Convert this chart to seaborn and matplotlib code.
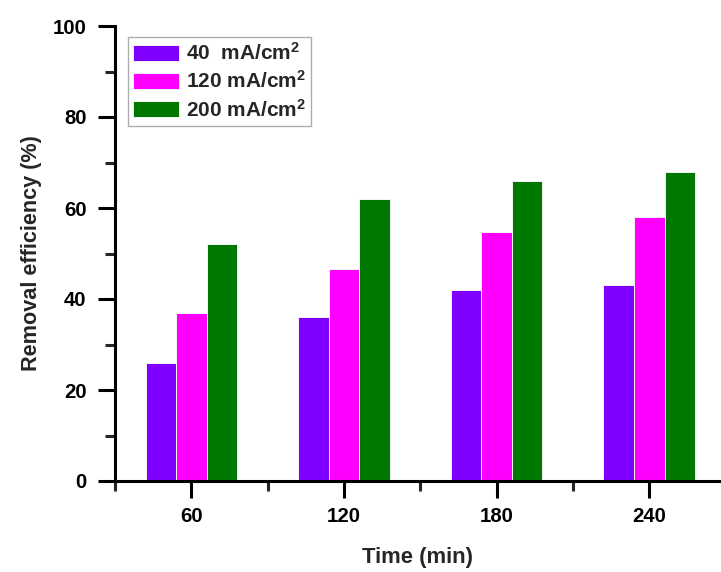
import matplotlib
matplotlib.use("Agg")
import matplotlib.pyplot as plt
import seaborn as sns
import pandas as pd
from matplotlib.ticker import MultipleLocator, FixedLocator

times = ["60", "120", "180", "240"]
series_labels = ["40  mA/cm$^{2}$", "120 mA/cm$^{2}$", "200 mA/cm$^{2}$"]
vals_40 = [26, 36, 42, 43]
vals_120 = [37, 46.5, 54.7, 58]
vals_200 = [52, 62, 66, 68]
colors = ["#8000FF", "#FF00FF", "#007800"]

sns.set_style("ticks")
plt.rcParams["font.family"] = ["Liberation Sans", "DejaVu Sans"]
plt.rcParams["font.weight"] = "bold"
plt.rcParams["mathtext.fontset"] = "custom"
plt.rcParams["mathtext.rm"] = "Liberation Sans:bold"
plt.rcParams["mathtext.bf"] = "Liberation Sans:bold"
plt.rcParams["mathtext.default"] = "bf"

rows = []
for lab, vals in zip(series_labels, [vals_40, vals_120, vals_200]):
    for t, v in zip(times, vals):
        rows.append({"Time": t, "Value": v, "Series": lab})
df = pd.DataFrame(rows)

fig = plt.figure(figsize=(7.21, 5.72), dpi=100)
ax = fig.add_axes([115 / 721, 1 - 481 / 572, 606 / 721, 455 / 572])

sns.barplot(data=df, x="Time", y="Value", hue="Series", order=times,
            hue_order=series_labels, palette=colors, width=0.6, saturation=1,
            edgecolor="#f4f4f4", linewidth=0.7, ax=ax, legend=True)

ax.set_ylim(0, 100)
ax.set_xlim(-0.5, 3.47)
ax.yaxis.set_major_locator(MultipleLocator(20))
ax.yaxis.set_minor_locator(MultipleLocator(10))
ax.xaxis.set_minor_locator(FixedLocator([-0.5, 0.5, 1.5, 2.5, 3.5]))

for s in ["top", "right"]:
    ax.spines[s].set_visible(False)
for s in ["left", "bottom"]:
    ax.spines[s].set_linewidth(2.2)
    ax.spines[s].set_color("black")
    ax.spines[s].set_capstyle("projecting")

ax.tick_params(axis="both", which="major", direction="out", length=12.5, width=2.2,
               labelsize=14.7, colors="black")
ax.tick_params(axis="both", which="minor", direction="out", length=7, width=2.2)
ax.tick_params(axis="y", which="major", pad=8)
ax.tick_params(axis="x", which="major", pad=6)
for lbl in ax.get_xticklabels() + ax.get_yticklabels():
    lbl.set_fontweight("bold")

ax.set_xlabel("Time (min)", fontsize=15.8, fontweight="bold", labelpad=15)
ax.set_ylabel("Removal efficiency (%)", fontsize=15.6, fontweight="bold", labelpad=8)

leg = ax.legend(loc="upper left", bbox_to_anchor=(13 / 606, 444 / 455),
                borderaxespad=0, fontsize=15,
                frameon=True, fancybox=False, edgecolor="#999999",
                handlelength=2.2, handleheight=0.8, labelspacing=0.3,
                borderpad=0.25, handletextpad=0.35, title=None)
leg.get_frame().set_linewidth(1.0)
for t in leg.get_texts():
    t.set_fontweight("bold")

fig.savefig("out.png", dpi=100)
